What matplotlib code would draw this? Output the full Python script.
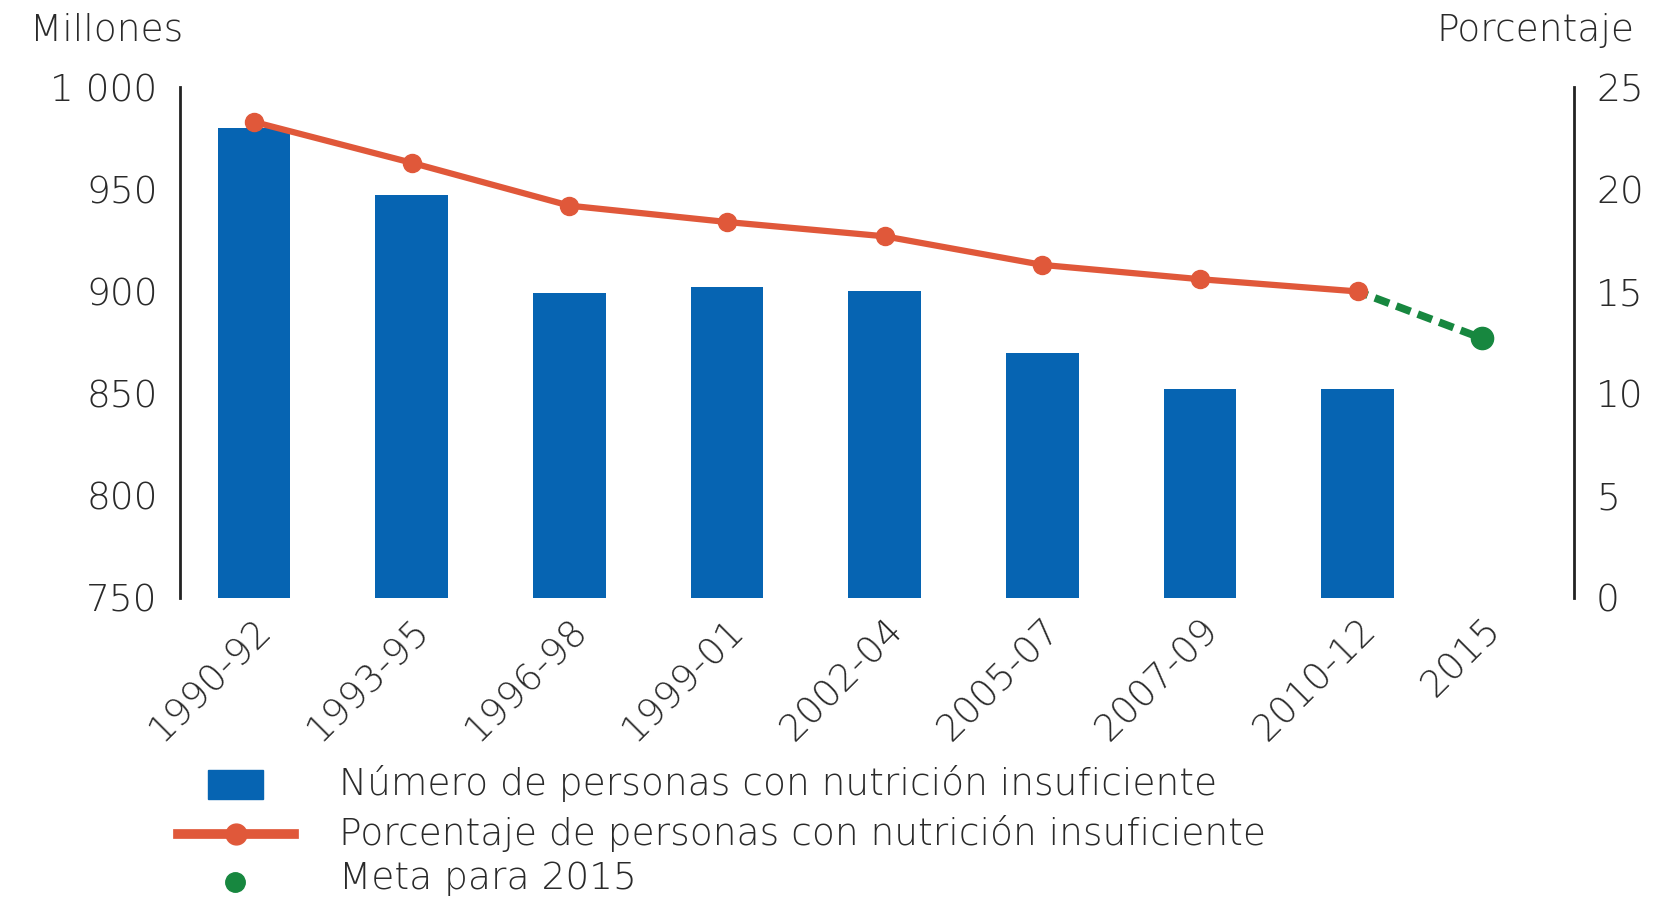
import numpy as np
import matplotlib
matplotlib.use("Agg")
import matplotlib.pyplot as plt
from matplotlib.lines import Line2D
from matplotlib.patches import Rectangle

plt.rcParams['font.family'] = ['DejaVu Sans']
plt.rcParams['font.weight'] = 200

# ==== DATA ====
periods = ["1990-92", "1993-95", "1996-98", "1999-01", "2002-04",
           "2005-07", "2007-09", "2010-12"]
target_label = "2015"
millions = [980, 947, 899, 902, 900, 870, 852, 852]
percent = [23.3, 21.3, 19.2, 18.4, 17.7, 16.3, 15.6, 15.0]
target_pct = 12.7

left_ticks = [750, 800, 850, 900, 950, 1000]
left_ticklabels = ["750", "800", "850", "900", "950", "1 000"]
right_ticks = [0, 5, 10, 15, 20, 25]

legend_labels = ["Número de personas con nutrición insuficiente",
                 "Porcentaje de personas con nutrición insuficiente",
                 "Meta para 2015"]

BLUE = "#0664B2"
ORANGE = "#E0583A"
GREEN = "#17873F"
TXT = "#2a2a2a"
FS = 27

W, H = 1660, 899

# ==== FIGURE ====
fig = plt.figure(figsize=(W / 100, H / 100), dpi=100)
ax = fig.add_axes([0.1084, 0.335, 0.8396, 0.568])
ax2 = ax.twinx()

x = np.arange(len(periods))
x_target = len(periods) - 1 + 0.79

ax.bar(x, [m - 750 for m in millions], bottom=750, width=0.46, color=BLUE, zorder=2)
ax.set_ylim(750, 1000)
ax.set_xlim(-0.47, 8.37)

ax2.plot([x[-1], x_target], [percent[-1], target_pct], color=GREEN, lw=5.5,
         ls=(0.6, (2.0, 1.0)), zorder=2)
ax2.plot(x, percent, color=ORANGE, lw=4.5, marker='o', markersize=13, zorder=3)
ax2.plot([x_target], [target_pct], 'o', color=GREEN, markersize=16, zorder=4)
ax2.set_ylim(0, 25)

# axes styling
for a in (ax, ax2):
    for s in ("top", "bottom"):
        a.spines[s].set_visible(False)
    a.tick_params(length=0, labelsize=FS, labelcolor=TXT)
ax.spines["right"].set_visible(False)
ax2.spines["left"].set_visible(False)
ax.spines["left"].set_linewidth(2)
ax.spines["left"].set_color("#222222")
ax2.spines["right"].set_linewidth(2)
ax2.spines["right"].set_color("#222222")

ax.set_yticks(left_ticks)
ax.set_yticklabels(left_ticklabels)
ax.tick_params(axis='y', pad=16)
ax2.set_yticks(right_ticks)
ax2.tick_params(axis='y', pad=16)

ax.set_xticks(list(x) + [x_target])
ax.set_xticklabels(periods + [target_label], rotation=45, ha='right',
                   rotation_mode='anchor')
ax.tick_params(axis='x', pad=10)

fig.text(30 / W, 1 - 30 / H, "Millones", fontsize=FS, color=TXT,
         ha='left', va='center')
fig.text(1634 / W, 1 - 30 / H, "Porcentaje", fontsize=FS, color=TXT,
         ha='right', va='center')

# ==== LEGEND (drawn in figure pixels) ====
fig.add_artist(Rectangle((208 / W, 1 - 799 / H), 55 / W, 29 / H,
                         transform=fig.transFigure, color=BLUE))
fig.add_artist(Line2D([178 / W, 294 / W], [1 - 834 / H, 1 - 834 / H],
                      transform=fig.transFigure, color=ORANGE, lw=7))
fig.add_artist(Line2D([236 / W], [1 - 834 / H], transform=fig.transFigure,
                      color=ORANGE, marker='o', markersize=15))
fig.add_artist(Line2D([235 / W], [1 - 882 / H], transform=fig.transFigure,
                      color=GREEN, marker='o', markersize=14))
for lab, yy in zip(legend_labels, [783, 834, 879]):
    fig.text(339 / W, 1 - yy / H, lab, fontsize=FS, color=TXT,
             ha='left', va='center')

fig.savefig("out.png", dpi=100)
